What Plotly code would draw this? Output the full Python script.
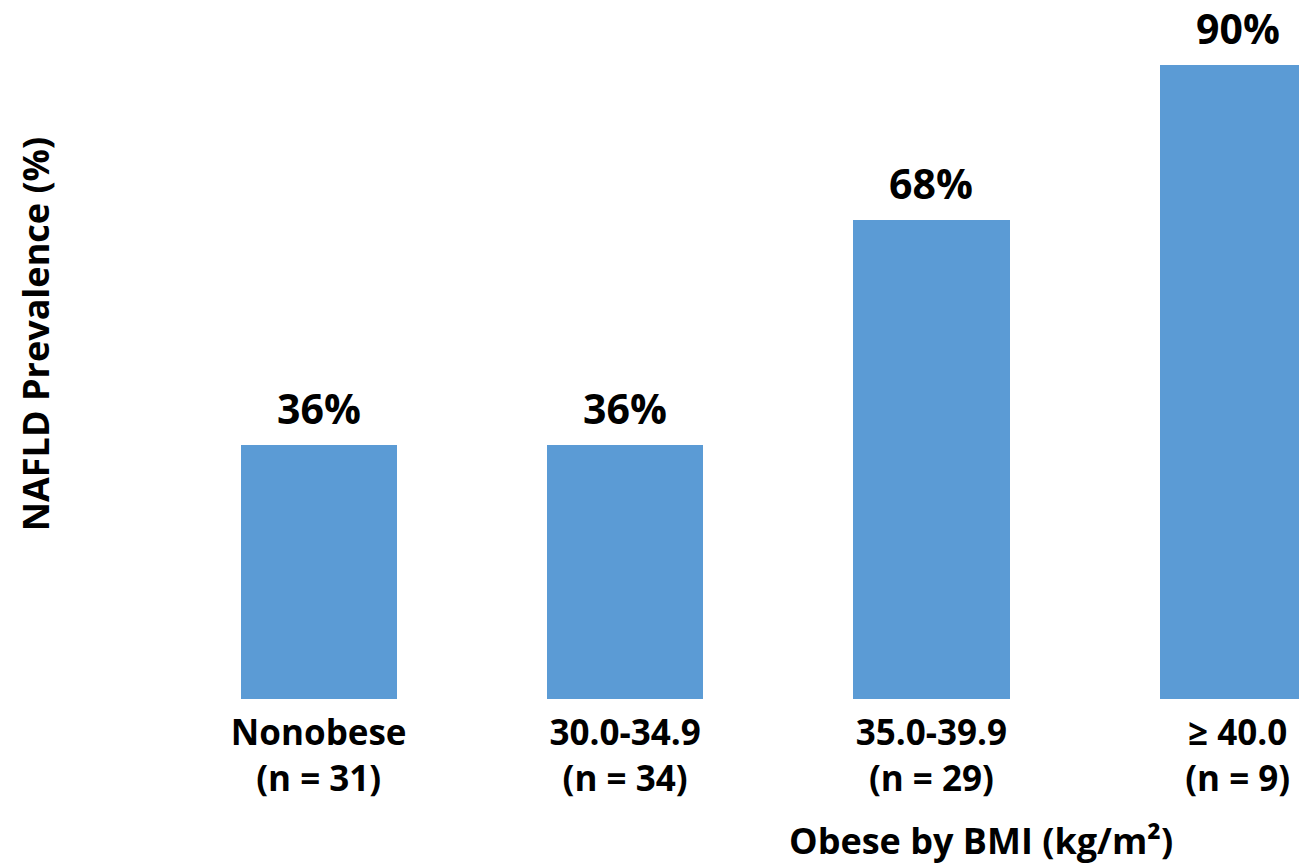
import plotly.graph_objects as go

# NAFLD prevalence by BMI group
groups = ["Nonobese", "30.0-34.9", "35.0-39.9", "≥ 40.0"]
counts = [31, 34, 29, 9]
prevalence = [36, 36, 68, 90]

FONT = "'Open Sans', Lato, sans-serif"
BAR_COLOR = "#5B9BD5"

x_pos = list(range(len(groups)))
tick_text = [f"{g}<br>(n = {n})" for g, n in zip(groups, counts)]

fig = go.Figure(
    go.Bar(
        x=x_pos,
        y=prevalence,
        width=0.51,
        marker=dict(color=BAR_COLOR, line=dict(width=0)),
        hoverinfo="skip",
    )
)

# percentage labels above each bar
for xi, v in zip(x_pos, prevalence):
    fig.add_annotation(
        x=xi, y=v, text=f"{v}%", showarrow=False,
        xref="x", yref="y", yanchor="bottom", yshift=7,
        font=dict(family=FONT, size=41, color="#000000", weight="bold"),
    )

# axis titles
fig.add_annotation(
    text="NAFLD Prevalence (%)", textangle=-90, showarrow=False,
    xref="paper", yref="paper", x=-0.109, y=0.523,
    xanchor="center", yanchor="middle",
    font=dict(family=FONT, size=36, color="#000000", weight="bold"),
)
fig.add_annotation(
    text="Obese by BMI (kg/m²)", showarrow=False,
    xref="paper", yref="paper", x=(981 - 160) / (1299 - 160), y=-0.203,
    xanchor="center", yanchor="middle",
    font=dict(family=FONT, size=36, color="#000000", weight="bold"),
)

fig.update_layout(
    width=1299, height=866,
    margin=dict(l=160, r=0, t=0, b=167),
    paper_bgcolor="white", plot_bgcolor="white",
    showlegend=False,
    bargap=0,
    xaxis=dict(
        range=[-0.518, 3.2],
        tickmode="array", tickvals=x_pos, ticktext=tick_text,
        showgrid=False, zeroline=False, showline=False, ticks="",
        ticklabelstandoff=10,
        tickfont=dict(family=FONT, size=35, color="#000000", weight="bold"),
    ),
    yaxis=dict(
        range=[0, 99.2],
        showgrid=False, zeroline=False, showline=False,
        showticklabels=False, ticks="",
    ),
)

fig.write_html("out.html")
